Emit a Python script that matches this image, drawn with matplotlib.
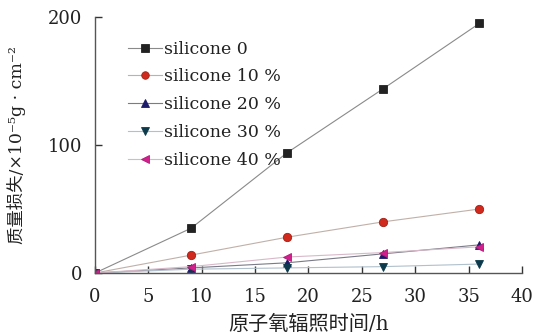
import matplotlib
matplotlib.use("Agg")
import matplotlib.pyplot as plt

plt.rcParams['font.family'] = ['DejaVu Serif', 'Noto Sans CJK SC']

time_h = [0, 9, 18, 27, 36]
labels = ['silicone 0', 'silicone 10 %', 'silicone 20 %', 'silicone 30 %', 'silicone 40 %']
s0 = [0, 35, 94, 144, 195]
s10 = [0, 14, 28, 40, 50]
s20 = [0, 4, 8, 15, 22]
s30 = [0, 3, 4, 5, 7]
s40 = [0, 5, 12.5, 16, 20.5]
series = [s0, s10, s20, s30, s40]

markers = ['s', 'o', '^', 'v', '<']
mcolors = ['#222222', '#d02a1e', '#1c1a6a', '#0c3a4c', '#d21f8c']
medges = ['#222222', '#a02015', '#1c1a6a', '#0c3a4c', '#b01a78']
lcolors = ['#8a8a8a', '#c0b0a8', '#7a7a88', '#b0c0cc', '#d8b8c8']

fig = plt.figure(figsize=(5.35, 3.35), dpi=100)
ax = fig.add_axes([0.1776, 0.185, 0.798, 0.764])

for ys, lab, m, mc, me, lc in zip(series, labels, markers, mcolors, medges, lcolors):
    ax.plot(time_h, ys, color=lc, lw=0.8, marker=m, markersize=6,
            markerfacecolor=mc, markeredgecolor=me, markeredgewidth=0.6, label=lab)

ax.set_xlim(0, 40)
ax.set_ylim(0, 200)
ax.set_xticks(range(0, 41, 5))
ax.set_yticks([0, 100, 200])
for s in ['top', 'right']:
    ax.spines[s].set_visible(False)
for s in ['left', 'bottom']:
    ax.spines[s].set_color('#555555')
    ax.spines[s].set_linewidth(1.0)
ax.tick_params(direction='in', length=5, width=1.0, color='#333333',
               labelsize=13, colors='#222222')
ax.tick_params(axis='x', pad=11)
ax.tick_params(axis='y', pad=9)

ax.set_xlabel('原子氧辐照时间/h', fontsize=14.5, color='#222222', labelpad=6)
ax.set_ylabel('质量损失/×10⁻⁵g · cm⁻²', fontsize=12.5, color='#222222', labelpad=16)

leg = ax.legend(loc='upper left', bbox_to_anchor=(0.06, 0.935), frameon=False,
                fontsize=12.5, handlelength=2.0, handletextpad=0.1,
                labelspacing=0.62, borderaxespad=0, markerscale=0.9)
for t in leg.get_texts():
    t.set_color('#222222')

fig.savefig('out.png', dpi=100)
